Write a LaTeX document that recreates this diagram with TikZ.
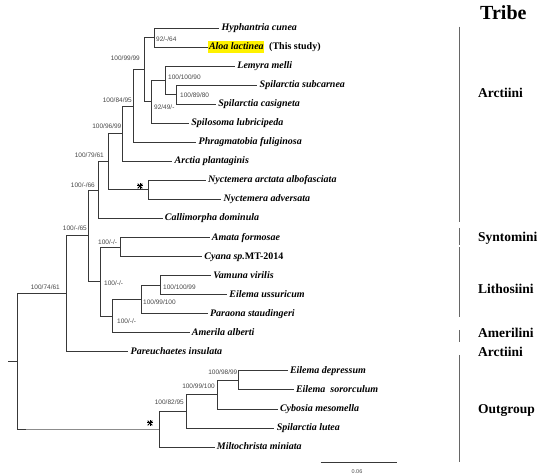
\documentclass[tikz,border=0pt]{standalone}
\usepackage{fontspec}
\setmainfont{Liberation Serif}
\newfontfamily\arialf{Liberation Sans}
\usetikzlibrary{calc}
\definecolor{branch}{gray}{0.22}
\definecolor{hl}{RGB}{255,242,0}
\tikzset{
  br/.style={draw=branch, line width=0.9pt},
  dimbr/.style={draw=black!45, line width=0.8pt},
  tipname/.style={anchor=west, inner xsep=2.2pt, inner ysep=0pt, text height=7pt, text depth=2pt,
    font=\fontsize{10}{12}\selectfont\bfseries\itshape},
  bsl/.style={font=\arialf\fontsize{6.5}{7}\selectfont, text=black!72, inner sep=0pt, anchor=base west},
  bsr/.style={bsl, anchor=base east},
  tribe/.style={anchor=base west, inner sep=0pt, font=\fontsize{13.5}{15}\selectfont\bfseries},
  tribebar/.style={draw=black!60, line width=0.8pt},
  starline/.style={draw=black, line width=1pt},
}
\begin{document}
\begin{tikzpicture}[x=1pt,y=-1pt]
\useasboundingbox (0,0) rectangle (550,476);

% ---- tips ----
\node[tipname] (t0) at (219.3,28) {Hyphantria cunea};
\node[tipname, fill=hl, inner xsep=0.6pt, inner ysep=1.3pt] (t1) at (208.2,47.05) {Aloa lactinea};
\node[anchor=west, inner sep=0pt, text height=7pt, text depth=2pt, font=\fontsize{10}{12}\selectfont\bfseries] (note) at ($(t1.east)+(4.5,0)$) {(This study)};
\node[tipname] (t2) at (235,66.1) {Lemyra melli};
\node[tipname] (t3) at (257.3,85.15) {Spilarctia subcarnea};
\node[tipname] (t4) at (216,104.2) {Spilarctia casigneta};
\node[tipname] (t5) at (189,123.25) {Spilosoma lubricipeda};
\node[tipname] (t6) at (196.3,142.3) {Phragmatobia fuliginosa};
\node[tipname] (t7) at (172.3,161.35) {Arctia plantaginis};
\node[tipname] (t8) at (205.8,180.4) {Nyctemera arctata albofasciata};
\node[tipname] (t9) at (221.3,199.45) {Nyctemera adversata};
\node[tipname] (t10) at (162.5,218.5) {Callimorpha dominula};
\node[tipname] (t11) at (209.5,237.55) {Amata formosae};
\node[tipname] (t12) at (202,256.6) {Cyana sp.\upshape MT-2014};
\node[tipname] (t13) at (211,275.65) {Vamuna virilis};
\node[tipname] (t14) at (227,294.7) {Eilema ussuricum};
\node[tipname] (t15) at (207.6,313.75) {Paraona staudingeri};
\node[tipname] (t16) at (189.5,332.8) {Amerila alberti};
\node[tipname] (t17) at (128.3,351.85) {Pareuchaetes insulata};
\node[tipname] (t18) at (287.6,370.9) {Eilema depressum};
\node[tipname] (t19) at (293.6,389.95) {Eilema\ \ sororculum};
\node[tipname] (t20) at (277.6,409.0) {Cybosia mesomella};
\node[tipname] (t21) at (274.4,428.05) {Spilarctia lutea};
\node[tipname] (t22) at (214.5,447.1) {Miltochrista miniata};

% ---- internal nodes ----
\coordinate (nA) at (154,37.53);
\coordinate (nB) at (176,94.68);
\coordinate (nC) at (165,80.39);
\coordinate (nD) at (151,101.82);
\coordinate (nE) at (144,69.67);
\coordinate (nF) at (133,105.99);
\coordinate (nG) at (122,133.67);
\coordinate (nH) at (148,189.93);
\coordinate (nI) at (108.5,161.8);
\coordinate (nJ) at (98.5,190.15);
\coordinate (nK) at (120,247.08);
\coordinate (nL) at (160,285.18);
\coordinate (nM) at (141.7,299.46);
\coordinate (nN) at (112.7,316.13);
\coordinate (nO) at (100,281.6);
\coordinate (nP) at (88.3,235.88);
\coordinate (nQ) at (66.7,293.86);
\coordinate (nR) at (238.3,380.43);
\coordinate (nS) at (217.7,394.71);
\coordinate (nT) at (186.7,411.38);
\coordinate (nU) at (159,429.24);
\coordinate (nRoot) at (17.3,361.55);
\coordinate (rtick) at (8.3,361.55);
\coordinate (rc) at (26,429.24);

% ---- branches ----
\draw[br] (nA) |- (t0.west);
\draw[br] (nA) |- (t1.west);
\draw[br] (nB) |- (t3.west);
\draw[br] (nB) |- (t4.west);
\draw[br] (nC) |- (t2.west);
\draw[br] (nC) |- (nB);
\draw[br] (nD) |- (nC);
\draw[br] (nD) |- (t5.west);
\draw[br] (nE) |- (nA);
\draw[br] (nE) |- (nD);
\draw[br] (nF) |- (nE);
\draw[br] (nF) |- (t6.west);
\draw[br] (nG) |- (nF);
\draw[br] (nG) |- (t7.west);
\draw[br] (nH) |- (t8.west);
\draw[br] (nH) |- (t9.west);
\draw[br] (nI) |- (nG);
\draw[br] (nI) |- (nH);
\draw[br] (nJ) |- (nI);
\draw[br] (nJ) |- (t10.west);
\draw[br] (nK) |- (t11.west);
\draw[br] (nK) |- (t12.west);
\draw[br] (nL) |- (t13.west);
\draw[br] (nL) |- (t14.west);
\draw[br] (nM) |- (nL);
\draw[br] (nM) |- (t15.west);
\draw[br] (nN) |- (nM);
\draw[br] (nN) |- (t16.west);
\draw[br] (nO) |- (nK);
\draw[br] (nO) |- (nN);
\draw[br] (nP) |- (nJ);
\draw[br] (nP) |- (nO);
\draw[br] (nQ) |- (nP);
\draw[br] (nQ) |- (t17.west);
\draw[br] (nR) |- (t18.west);
\draw[br] (nR) |- (t19.west);
\draw[br] (nS) |- (nR);
\draw[br] (nS) |- (t20.west);
\draw[br] (nT) |- (nS);
\draw[br] (nT) |- (t21.west);
\draw[br] (nU) |- (nT);
\draw[br] (nU) |- (t22.west);
\draw[br] (nRoot) |- (nQ);
\draw[br] (nRoot) |- (rc);
\draw[dimbr] (rc) -- (nU);
\draw[br] (rtick) -- (nRoot);

% ---- stars ----
\coordinate (s1) at (140,186);
\coordinate (s2) at (150,423);
\foreach \s in {s1,s2}{
  \foreach \a in {0,45,90,135}{
    \draw[starline] ($(\s)+(\a:3.2)$) -- ($(\s)+(\a+180:3.2)$);
  }
}

% ---- support values ----
\node[bsl] (b1) at (156,41.3) {92/-/64};
\node[bsr] (b2) at (140,60.3) {100/99/99};
\node[bsl] (b3) at (168,79.3) {100/100/90};
\node[bsl] (b4) at (180,97.3) {100/89/80};
\node[bsl] (b5) at (154,109.3) {92/49/-};
\node[bsr] (b6) at (132,102.3) {100/84/95};
\node[bsr] (b7) at (121.5,128.3) {100/96/99};
\node[bsr] (b8) at (104,157.3) {100/79/61};
\node[bsr] (b9) at (95,187.3) {100/-/66};
\node[bsr] (b10) at (87,230.3) {100/-/65};
\node[bsl] (b11) at (98,244.3) {100/-/-};
\node[bsl] (b12) at (104,285.3) {100/-/-};
\node[bsl] (b13) at (117,323.3) {100/-/-};
\node[bsl] (b14) at (143,305) {100/99/100};
\node[bsl] (b15) at (163,289.3) {100/100/99};
\node[bsr] (b16) at (60,289.3) {100/74/61};
\node[bsr] (b17) at (237.5,375) {100/98/99};
\node[bsr] (b18) at (215,388.3) {100/99/100};
\node[bsr] (b19) at (184,404.3) {100/82/95};

% ---- tribes ----
\node[anchor=base west, inner sep=0pt, font=\fontsize{20}{22}\selectfont\bfseries] (title) at (480,20) {Tribe};
\coordinate (g1a) at (459,26.7);  \coordinate (g1b) at (459,221.7);
\coordinate (g2a) at (459,228);   \coordinate (g2b) at (459,245);
\coordinate (g3a) at (459,247.5); \coordinate (g3b) at (459,317);
\coordinate (g4a) at (459,330);   \coordinate (g4b) at (459,342);
\coordinate (g5a) at (459,355);   \coordinate (g5b) at (459,461.7);
\draw[tribebar] (g1a) -- (g1b);
\draw[tribebar] (g2a) -- (g2b);
\draw[tribebar] (g3a) -- (g3b);
\draw[tribebar] (g4a) -- (g4b);
\draw[tribebar] (g5a) -- (g5b);
\node[tribe] (tr1) at (478,97.8) {Arctiini};
\node[tribe] (tr2) at (478,241.2) {Syntomini};
\node[tribe] (tr3) at (478,293.5) {Lithosiini};
\node[tribe] (tr4) at (478,337.5) {Amerilini};
\node[tribe] (tr5) at (478,356.5) {Arctiini};
\node[tribe] (tr6) at (478,413.5) {Outgroup};

% ---- scale bar ----
\coordinate (sb1) at (320.7,462.7);
\coordinate (sb2) at (397.3,462.7);
\draw[br] (sb1) -- (sb2);
\node[font=\arialf\fontsize{5.5}{6}\selectfont, text=black!70, inner sep=0pt] (sbl) at (357,471.5) {0.06};
\end{tikzpicture}
\end{document}
